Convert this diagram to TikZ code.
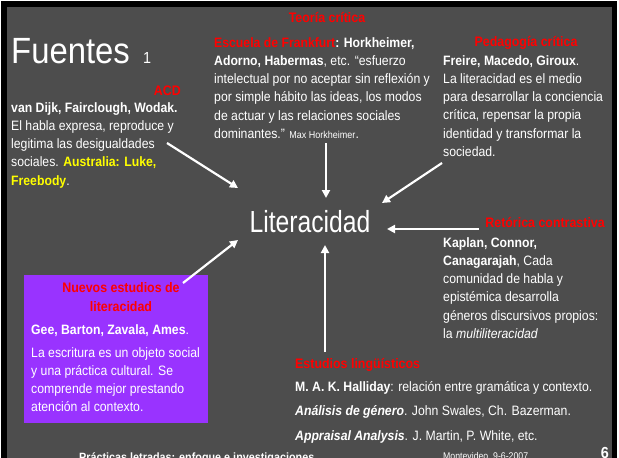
\documentclass[tikz,border=0pt]{standalone}
\usepackage{fontspec}
\setmainfont[FakeStretch=0.9]{Liberation Sans}
\usepackage{graphicx}
\usepackage{tikz}
\usetikzlibrary{arrows.meta,calc}
\definecolor{slidegrey}{RGB}{77,77,77}
\definecolor{nlspurple}{RGB}{153,51,255}
\definecolor{titlered}{RGB}{255,0,0}
\definecolor{namesyellow}{RGB}{255,255,0}
\newcommand{\bodyfont}{\fontsize{13.6}{18.3}\selectfont}

\begin{document}
\begin{tikzpicture}[x=1pt,y=-1pt,
  every node/.style={inner sep=0pt,text=white,anchor=base west},
  redtitle/.style={text=titlered,font=\fontsize{13.8}{19}\selectfont\bfseries},
  bodytext/.style={align=left,anchor=north west,font=\bodyfont},
  arrowline/.style={draw=white,line width=2.2pt,-{Triangle[length=8pt,width=8pt]}}]
\useasboundingbox (0,0) rectangle (619,458);
\clip (0,0) rectangle (619,458);
\fill[white] (0,0) rectangle (619,458);
\fill[black] (1,1) rectangle (617,462);
\fill[slidegrey] (7,7) rectangle (612,462);

\node (fuentes) at (11,63) [font=\fontsize{36.5}{40}\selectfont] {Fuentes};
\node (fuentesnum) at (143,63) [font=\fontsize{16}{18}\selectfont] {1};

\node (acd) at (181,95) [redtitle,anchor=base east] {ACD};
\node (acdtext) at (11,102) [bodytext] {\textbf{van Dijk, Fairclough, Wodak.}\\ El habla expresa, reproduce y\\ legitima las desigualdades\\ sociales. \textcolor{namesyellow}{\textbf{Australia: Luke,}}\\ \textcolor{namesyellow}{\textbf{Freebody}}.};

\node (teoria) at (327,22) [redtitle,anchor=base] {Teoría crítica};
\node (teoriatext) at (214,37) [bodytext] {\textcolor{titlered}{\textbf{Escuela de Frankfurt}}\textbf{: Horkheimer,}\\ \textbf{Adorno, Habermas}, etc. “esfuerzo\\ intelectual por no aceptar sin reflexión y\\ por simple hábito las ideas, los modos\\ de actuar y las relaciones sociales\\ dominantes.” {\fontsize{10}{12}\selectfont Max Horkheimer}.};

\node (pedagogia) at (526,46) [redtitle,anchor=base] {Pedagogía crítica};
\node (pedagogiatext) at (443,55) [bodytext] {\textbf{Freire, Macedo, Giroux}.\\ La literacidad es el medio\\ para desarrollar la conciencia\\ crítica, repensar la propia\\ identidad y transformar la\\ sociedad.};

\node (retorica) at (605,227) [redtitle,anchor=base east] {Retórica contrastiva};
\node (retoricatext) at (443,237) [bodytext] {\textbf{Kaplan, Connor,}\\ \textbf{Canagarajah}, Cada\\ comunidad de habla y\\ epistémica desarrolla\\ géneros discursivos propios:\\ la \textit{multiliteracidad}};

\node (nelbox) at (116,349) [fill=nlspurple,minimum width=184,minimum height=148,anchor=center] {};
\node (nel) at (121,282) [redtitle,anchor=north,align=center] {Nuevos estudios de\\ literacidad};
\node (nelnames) at (31,334) [font=\bodyfont] {\textbf{Gee, Barton, Zavala, Ames}.};
\node (neltext) at (31,347) [bodytext] {La escritura es un objeto social\\ y una práctica cultural. Se\\ comprende mejor prestando\\ atención al contexto.};

\node (estudios) at (295,368) [redtitle] {Estudios lingüísticos};
\node (estudiostext) at (295,381) [bodytext,font=\fontsize{13.6}{24.4}\selectfont] {\textbf{M. A. K. Halliday}: relación entre gramática y contexto.\\ \textbf{\textit{Análisis de género}}. John Swales, Ch. Bazerman.\\ \textbf{\textit{Appraisal Analysis}}. J. Martin, P. White, etc.};

\node (footer) at (79,461) [font=\fontsize{12}{14}\selectfont\bfseries] {Prácticas letradas: enfoque e investigaciones};
\node (footdate) at (443,459.5) [font=\fontsize{9.7}{11}\selectfont] {Montevideo, 9-6-2007};
\node (footpage) at (609,458.5) [anchor=base east,font=\fontsize{16}{18}\selectfont\bfseries] {6};

\node (lit) at (310,232) [anchor=base,font=\fontsize{30.5}{32}\selectfont] {\scalebox{0.9}[1]{Literacidad}};

\coordinate (acdstart) at (167,143);
\coordinate (acdtip) at (238,188);
\coordinate (teoriastart) at (326,143);
\coordinate (teoriatip) at (326,198);
\coordinate (pedagogiastart) at (442,163);
\coordinate (pedagogiatip) at (382,203);
\coordinate (retoricastart) at (479,229);
\coordinate (retoricatip) at (387,229);
\coordinate (estudiosstart) at (325,352);
\coordinate (estudiostip) at (325,245);
\coordinate (nelstart) at (183,283);
\coordinate (neltip) at (238,240);
\draw[arrowline] (acdstart) -- (acdtip);
\draw[arrowline] (teoriastart) -- (teoriatip);
\draw[arrowline] (pedagogiastart) -- (pedagogiatip);
\draw[arrowline] (retoricastart) -- (retoricatip);
\draw[arrowline] (estudiosstart) -- (estudiostip);
\draw[arrowline] (nelstart) -- (neltip);
\end{tikzpicture}
\end{document}
